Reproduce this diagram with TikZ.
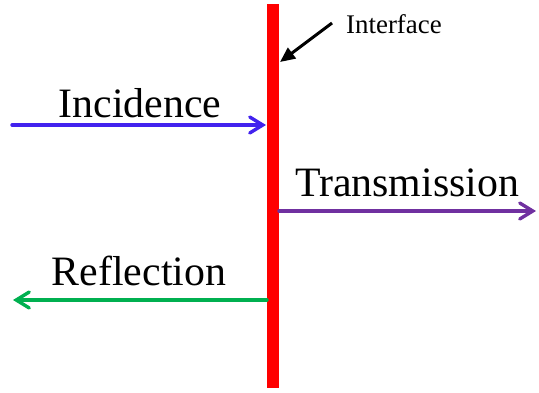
\documentclass[tikz,border=0pt]{standalone}
\usepackage{fontspec}
\setmainfont{Liberation Serif}
\usetikzlibrary{arrows.meta,positioning}
\definecolor{incblue}{RGB}{66,34,238}
\definecolor{transpurple}{RGB}{112,48,160}
\definecolor{reflgreen}{RGB}{0,176,80}

\begin{document}
\begin{tikzpicture}[
    x=1bp, y=-1bp,
    wave/.style={line width=3.4bp, line cap=round, -{Straight Barb[length=13bp,width=16bp,line cap=round]}},
    wavetext/.style={inner sep=0pt, anchor=base, font=\fontsize{42}{46}\selectfont},
    pointer/.style={line width=3bp, -{Triangle[length=15bp,width=13bp]}}
]
\useasboundingbox (0,0) rectangle (539,392);
% interface
\coordinate (top) at (273,4);
\coordinate (bot) at (273,388);
\draw[red, line width=12bp] (top) -- (bot);
% waves
\coordinate (incA) at (12,125);
\coordinate (incB) at (266,125);
\coordinate (trA) at (279,211);
\coordinate (trB) at (536,211);
\coordinate (reA) at (267,300);
\coordinate (reB) at (13,300);
\draw[wave, incblue] (incA) -- (incB);
\draw[wave, transpurple] (trA) -- (trB);
\draw[wave, reflgreen] (reA) -- (reB);
\node[wavetext] (inc) at (140,117) {Incidence};
\node[wavetext] (trans) at (407,196) {Transmission};
\node[wavetext] (refl) at (139,285) {Reflection};
% label of the interface
\node[inner sep=0pt, anchor=base west, font=\fontsize{27}{30}\selectfont] (iface) at (346,33) {Interface};
\coordinate (ptrA) at (332,23);
\coordinate (ptrB) at (280,62);
\draw[pointer] (ptrA) -- (ptrB);
\end{tikzpicture}
\end{document}
